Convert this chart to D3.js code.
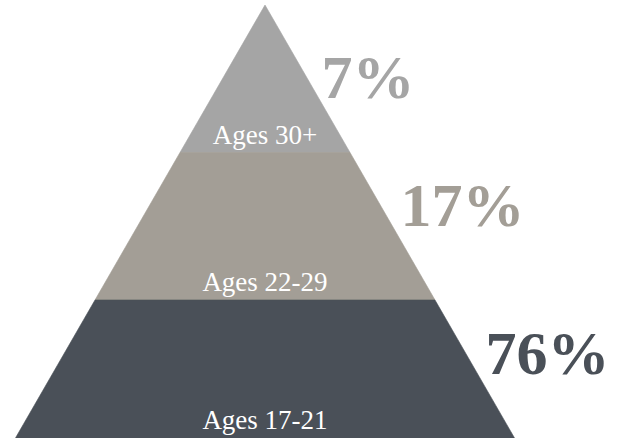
<!DOCTYPE html>
<html>
<head>
<meta charset="utf-8">
<title>Age pyramid</title>
<script src="https://cdnjs.cloudflare.com/ajax/libs/d3/7.8.5/d3.min.js"></script>
<style>
html, body { margin: 0; padding: 0; background: #fff; }
svg { display: block; }
text { font-family: Georgia, "Liberation Serif", serif; }
</style>
</head>
<body>
<svg id="chart" width="625" height="440"></svg>
<script>
// top of the pyramid first
var ageGroups = ["Ages 30+", "Ages 22-29", "Ages 17-21"];
var shares = [7, 17, 76];
var colors = ["#a5a5a5", "#a39e96", "#4a5058"];

var svg = d3.select("#chart"),
    cx = 265,
    apexY = 5,
    baseY = 438;   // the picture is cut here

// each band is one level high; levels go 0 (apex) .. 3
var y = d3.scaleLinear().domain([0, ageGroups.length]).range([apexY, 447.5]);
var half = d3.scaleLinear().domain([0, ageGroups.length]).range([0, 255]);

svg.append("clipPath").attr("id", "cut")
  .append("rect").attr("x", 0).attr("y", 0).attr("width", 625).attr("height", baseY);

var bands = ageGroups.map(function(name, i) {
  return { name: name, share: shares[i], color: colors[i], i: i };
});

svg.append("g").attr("clip-path", "url(#cut)")
  .selectAll("polygon")
  .data(bands)
  .enter().append("polygon")
    .attr("fill", function(d) { return d.color; })
    .attr("stroke", function(d) { return d.color; })
    .attr("stroke-width", 0.6)
    .attr("stroke-linejoin", "miter")
    .attr("points", function(d) {
      var t = d.i, b = d.i + 1;
      return [
        [cx - half(t), y(t)], [cx + half(t), y(t)],
        [cx + half(b), y(b)], [cx - half(b), y(b)]
      ].join(" ");
    });

// labels inside the bands, near the bottom of each one
svg.selectAll(".age")
  .data(bands)
  .enter().append("text")
    .attr("class", "age")
    .attr("x", cx)
    .attr("y", function(d) { return Math.min(y(d.i + 1), baseY) - 9; })
    .attr("text-anchor", "middle")
    .attr("fill", "#fff")
    .style("font-size", "27px")
    .text(function(d) { return d.name; });

// big percentages beside the right edge
function pctLevel(d) { return d.i === 0 ? 0.63 : d.i + 0.5; }

svg.selectAll(".pct")
  .data(bands)
  .enter().append("text")
    .attr("class", "pct")
    .attr("x", function(d) { return cx + half(pctLevel(d)) + (d.i === 0 ? 3 : 8); })
    .attr("y", function(d) { return y(pctLevel(d)); })
    .attr("fill", function(d) { return d.color; })
    .style("font-size", "62px")
    .style("font-weight", "bold")
    .text(function(d) { return d.share + "%"; });
</script>
</body>
</html>
